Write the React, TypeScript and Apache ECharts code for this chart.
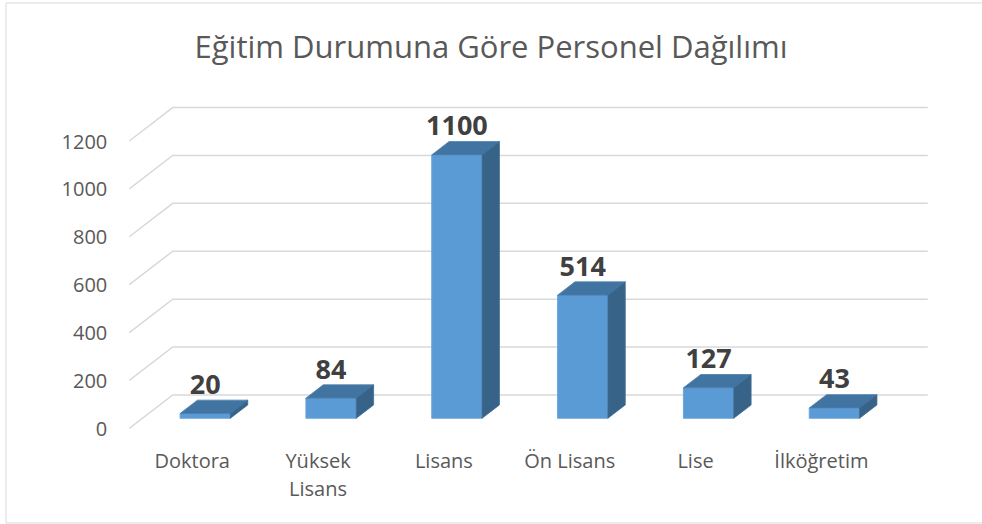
import React, { useEffect, useRef } from "react";
import * as echarts from "echarts";

const categories = ["Doktora", "Yüksek\nLisans", "Lisans", "Ön Lisans", "Lise", "İlköğretim"];
const values = [20, 84, 1100, 514, 127, 43];
const yTicks = [0, 200, 400, 600, 800, 1000, 1200];
const title = "Eğitim Durumuna Göre Personel Dağılımı";

// oblique depth projection
const DX = 43.4;
const DY = -33.4;
const FRONT = 0.3;
const DEPTH = 0.4;

export default function App() {
  const ref = useRef<HTMLDivElement>(null);
  useEffect(() => {
    document.body.style.margin = "0";
    const chart = echarts.init(ref.current!, null, { renderer: "svg" });
    const font = "'Open Sans', sans-serif";
    chart.setOption({
      animation: false,
      backgroundColor: "#ffffff",
      title: {
        text: title,
        left: "center",
        top: 25,
        textStyle: { fontFamily: font, fontSize: 31, fontWeight: "normal", color: "#595959" },
      },
      graphic: [
        {
          type: "rect",
          shape: { x: 6, y: 3, width: 1000, height: 520 },
          style: { fill: "none", stroke: "#d9d9d9", lineWidth: 1 },
          silent: true,
        },
      ],
      grid: { left: 129.3, right: 97.7, top: 141, bottom: 95.7 },
      xAxis: {
        type: "category",
        data: categories,
        axisLine: { show: false },
        axisTick: { show: false },
        axisLabel: { fontFamily: font, fontSize: 20, color: "#595959", margin: 18, lineHeight: 28 },
      },
      yAxis: {
        type: "value",
        min: 0,
        max: 1200,
        interval: 200,
        axisLine: { show: false },
        axisTick: { show: false },
        splitLine: { show: false },
        axisLabel: {
          fontFamily: font,
          fontSize: 20,
          color: "#595959",
          margin: 22,
          formatter: (v: number) => String(v),
        },
      },
      series: [
        {
          type: "custom",
          silent: true,
          z: 1,
          data: yTicks.map((v) => [0, v]),
          renderItem: (params: any, api: any) => {
            const v = api.value(1);
            const band = api.size([1, 0])[0];
            const p0 = api.coord([0, v]);
            const p1 = api.coord([categories.length - 1, v]);
            const xl = p0[0] - band / 2;
            const xr = p1[0] + band / 2;
            const y = p0[1];
            return {
              type: "polyline",
              shape: {
                points: [
                  [xl, y],
                  [xl + DX, y + DY],
                  [xr + DX, y + DY],
                ],
              },
              style: { stroke: "#d9d9d9", lineWidth: 1.5, fill: "none" },
            };
          },
        },
        {
          type: "custom",
          z: 2,
          data: values.map((v, i) => [i, v]),
          renderItem: (params: any, api: any) => {
            const i = api.value(0);
            const v = api.value(1);
            const band = api.size([1, 0])[0];
            const top = api.coord([i, v]);
            const base = api.coord([i, 0]);
            const bw = band * 0.4;
            const fx = top[0] - bw / 2 + FRONT * DX;
            const yT = top[1] + FRONT * DY;
            const yB = base[1] + FRONT * DY;
            const ddx = DEPTH * DX;
            const ddy = DEPTH * DY;
            return {
              type: "group",
              children: [
                {
                  type: "rect",
                  shape: { x: fx, y: yT, width: bw, height: yB - yT },
                  style: { fill: "#5b9bd5", stroke: "#6aa6dc", lineWidth: 1 },
                },
                {
                  type: "polygon",
                  shape: {
                    points: [
                      [fx, yT],
                      [fx + bw, yT],
                      [fx + bw + ddx, yT + ddy],
                      [fx + ddx, yT + ddy],
                    ],
                  },
                  style: { fill: "#4274a2", stroke: "#4a7fb0", lineWidth: 0.8 },
                },
                {
                  type: "polygon",
                  shape: {
                    points: [
                      [fx + bw, yT],
                      [fx + bw, yB],
                      [fx + bw + ddx, yB + ddy],
                      [fx + bw + ddx, yT + ddy],
                    ],
                  },
                  style: { fill: "#386389", stroke: "#3d6b94", lineWidth: 0.8 },
                },
                {
                  type: "text",
                  style: {
                    text: String(v),
                    x: fx + bw / 2,
                    y: yT - 30,
                    align: "center",
                    verticalAlign: "middle",
                    fontFamily: font,
                    fontSize: 27,
                    fontWeight: "bold",
                    fill: "#404040",
                  },
                },
              ],
            };
          },
        },
      ],
    });
    return () => chart.dispose();
  }, []);
  return <div ref={ref} style={{ width: 982, height: 524, position: "absolute", left: 0, top: 0 }} />;
}
